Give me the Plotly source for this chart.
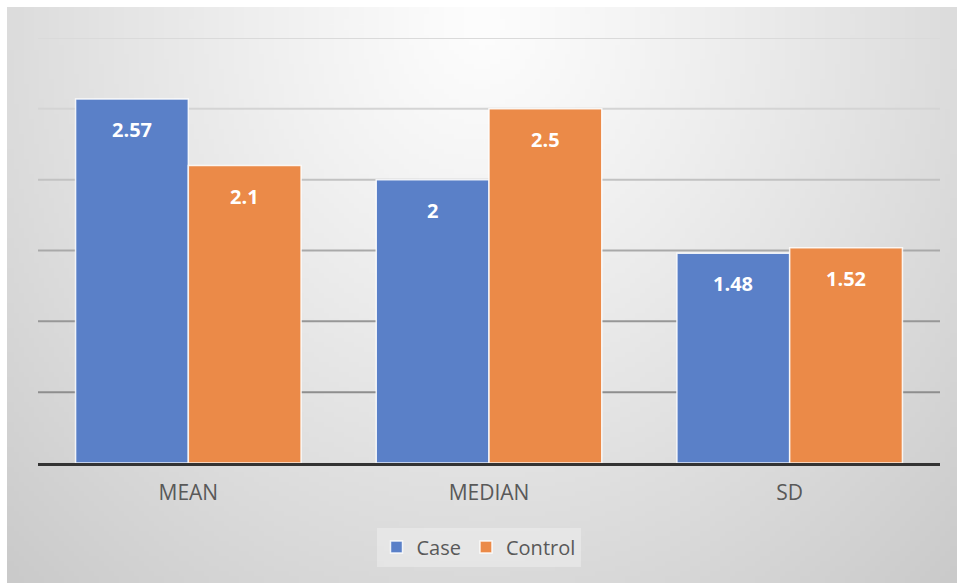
import base64
import struct
import zlib

import numpy as np
import plotly.graph_objects as go

# ---- data ----
categories = ["MEAN", "MEDIAN", "SD"]
case_values = [2.57, 2.0, 1.48]
control_values = [2.1, 2.5, 1.52]
case_labels = ["2.57", "2", "1.48"]
control_labels = ["2.1", "2.5", "1.52"]
grid_levels = [0.5, 1.0, 1.5, 2.0, 2.5, 3.0]

# ---- style ----
W, H = 957, 583
CASE_COLOR = "#5a80c8"
CONTROL_COLOR = "#eb8a48"
TEXT_COLOR = "#595959"
FONT = "Open Sans"
BARGAP = 0.25
grid_colors = ["#8e8e8e", "#979797", "#a9a9a9", "#c2c2c2", "#d4d4d4", "#dadada"]


def gradient_png(w, h):
    """Soft radial grey gradient, light near the top centre."""
    ys, xs = np.mgrid[0:h, 0:w].astype(float)
    sx, sy = 950.0 / w, 576.0 / h
    dx = (xs * sx - 473) / 560.0
    dy = (ys * sy - 15) / 620.0
    d = np.sqrt(dx ** 2 + dy ** 2)
    v = np.clip(253 - 40 * d ** 1.15, 200, 253).astype(np.uint8)
    raw = b"".join(b"\x00" + bytes(row) for row in v)

    def chunk(tag, data):
        c = tag + data
        return struct.pack(">I", len(data)) + c + struct.pack(">I", zlib.crc32(c) & 0xFFFFFFFF)

    png = b"\x89PNG\r\n\x1a\n"
    png += chunk(b"IHDR", struct.pack(">IIBBBBB", w, h, 8, 0, 0, 0, 0))
    png += chunk(b"IDAT", zlib.compress(raw, 9))
    png += chunk(b"IEND", b"")
    return "data:image/png;base64," + base64.b64encode(png).decode()


fig = go.Figure()
fig.add_trace(go.Bar(
    name="Case", x=categories, y=case_values,
    marker=dict(color=CASE_COLOR, line=dict(color="rgba(255,255,255,0.85)", width=1.5)),
))
fig.add_trace(go.Bar(
    name="Control", x=categories, y=control_values,
    marker=dict(color=CONTROL_COLOR, line=dict(color="rgba(255,255,255,0.85)", width=1.5)),
))

# value labels near the top inside each bar
half = (1 - BARGAP) / 4
for i, cat in enumerate(categories):
    for val, lab, off in ((case_values[i], case_labels[i], -half),
                          (control_values[i], control_labels[i], half)):
        fig.add_annotation(
            x=i + off, y=val, xref="x", yref="y", text=f"<b>{lab}</b>",
            showarrow=False, yanchor="top", yshift=-15,
            font=dict(family=FONT, size=20, color="white"),
        )

# horizontal gridlines
for lvl, col in zip(grid_levels, grid_colors):
    fig.add_shape(type="line", xref="paper", yref="y",
                  x0=38 / W, x1=940 / W, y0=lvl, y1=lvl,
                  line=dict(color=col, width=2), layer="below")

fig.add_layout_image(
    source=gradient_png(190, 116), xref="paper", yref="paper",
    x=7 / W, y=1 - 7 / H, sizex=950 / W, sizey=576 / H,
    xanchor="left", yanchor="top", sizing="stretch", layer="below",
)

fig.update_layout(
    width=W, height=H,
    margin=dict(l=0, r=0, t=0, b=0),
    paper_bgcolor="white", plot_bgcolor="rgba(0,0,0,0)",
    barmode="group", bargap=BARGAP, bargroupgap=0,
    font=dict(family=FONT, color=TEXT_COLOR),
    showlegend=True,
    legend=dict(
        orientation="h", x=0.5, xanchor="center", y=1 - 547 / H, yanchor="middle",
        bgcolor="rgba(255,255,255,0.3)", font=dict(family=FONT, size=20, color=TEXT_COLOR),
        itemwidth=30,
    ),
    xaxis=dict(
        domain=[38 / W, 940 / W], showgrid=False, showline=True,
        linecolor="#333333", linewidth=3, ticks="", ticklabelstandoff=9,
        tickfont=dict(family=FONT, size=21, color=TEXT_COLOR), fixedrange=True,
    ),
    yaxis=dict(
        domain=[1 - 463 / H, 1 - 38 / H], range=[0, 3.0], showgrid=False,
        showticklabels=False, zeroline=False, fixedrange=True,
    ),
)

fig.write_html("out.html")
